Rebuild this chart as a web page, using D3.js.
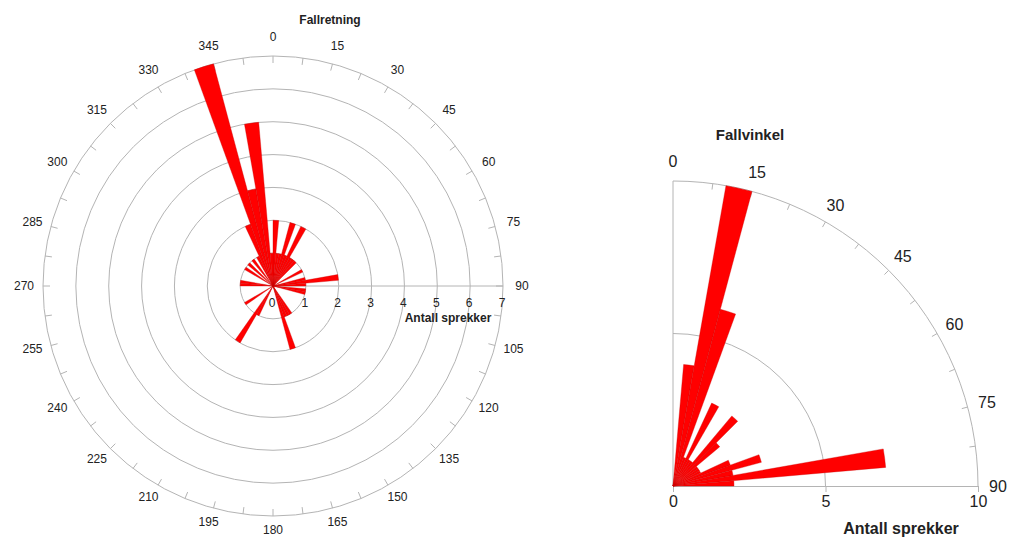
<!DOCTYPE html>
<html>
<head>
<meta charset="utf-8">
<script src="https://cdn.jsdelivr.net/npm/d3@7"></script>
<style>
  body { margin: 0; background: #fff; }
  text { font-family: "Liberation Sans", Arial, sans-serif; fill: #222; }
</style>
</head>
<body>
<div id="chart"></div>
<script>
// Fallretning (dip direction), 5 degree bins, start angle -> count
const dirAngles = [0, 5, 10, 15, 20, 25, 30, 35, 40, 60, 75, 80, 85, 95, 100,
  145, 150, 155, 160, 205, 210, 235, 270, 275, 300, 310, 320, 330, 335, 340, 345, 350, 355]
const dirCounts = [2, 1, 1, 2, 1, 2, 1, 1, 1, 1, 1, 2, 1, 1, 1,
  1, 1, 1, 2, 1, 2, 1, 1, 1, 1, 1, 1, 1, 2, 7, 3, 5, 1]
const dirLabels = [0, 15, 30, 45, 60, 75, 90, 105, 120, 135, 150, 165, 180,
  195, 210, 225, 240, 255, 270, 285, 300, 315, 330, 345]
const dirRings = [1, 2, 3, 4, 5, 6, 7]

// Fallvinkel (dip angle), 5 degree bins
const dipAngles = [5, 10, 15, 20, 25, 30, 35, 40, 45, 50, 55, 60, 65, 70, 75, 80, 85]
const dipCounts = [4, 10, 6, 1, 3, 1, 1, 3, 2, 1, 1, 1, 2, 3, 2, 7, 2]
const dipLabels = [0, 15, 30, 45, 60, 75, 90]
const dipRings = [5, 10]
const binWidth = 5

const W = 1011, H = 538
const grey = "#b4b4b4"
const rad = d => d * Math.PI / 180

const svg = d3.select("#chart").append("svg")
  .attr("width", W).attr("height", H)

function drawBars(g, angles, counts, r) {
  const arc = d3.arc().innerRadius(0)
  g.selectAll("path.bar")
    .data(angles.map((a, i) => ({a: a, n: counts[i]})))
    .enter().append("path")
    .attr("class", "bar")
    .attr("d", d => arc({startAngle: rad(d.a), endAngle: rad(d.a + binWidth), outerRadius: r(d.n)}))
    .attr("fill", "#ff0000")
    .attr("stroke", "#c80000")
    .attr("stroke-width", 0.35)
}

function outerTicks(g, R, from, to, len) {
  const t = d3.range(from, to + 0.01, 7.5)
  g.selectAll("line.otick").data(t).enter().append("line")
    .attr("class", "otick")
    .attr("x1", d => R * Math.sin(rad(d))).attr("y1", d => -R * Math.cos(rad(d)))
    .attr("x2", d => (R - len) * Math.sin(rad(d))).attr("y2", d => -(R - len) * Math.cos(rad(d)))
    .attr("stroke", grey).attr("stroke-width", 1)
}

// ---- left: full rose ----
const cx = 273, cy = 286
const rL = d3.scaleLinear().domain([0, 7]).range([0, 230])
const gL = svg.append("g").attr("transform", `translate(${cx},${cy})`)

gL.selectAll("circle.ring").data(dirRings).enter().append("circle")
  .attr("class", "ring")
  .attr("r", d => rL(d))
  .attr("fill", "none").attr("stroke", grey).attr("stroke-width", 1)
outerTicks(gL, rL(7), 0, 352.5, 7)
gL.append("line")
  .attr("x1", 0).attr("y1", 0).attr("x2", rL(7)).attr("y2", 0)
  .attr("stroke", grey).attr("stroke-width", 1)

drawBars(gL, dirAngles, dirCounts, rL)

gL.selectAll("text.rtick").data([0].concat(dirRings)).enter().append("text")
  .attr("class", "rtick")
  .attr("x", d => rL(d) - 1).attr("y", 21)
  .attr("text-anchor", "middle").attr("font-size", 12)
  .text(d => d)
gL.selectAll("text.alab").data(dirLabels).enter().append("text")
  .attr("class", "alab")
  .attr("x", d => 249 * Math.sin(rad(d)))
  .attr("y", d => -(d > 90 && d < 270 ? 244 : 249) * Math.cos(rad(d)) + 4)
  .attr("text-anchor", "middle").attr("font-size", 12)
  .text(d => d)
gL.append("text")
  .attr("x", 175).attr("y", 36)
  .attr("text-anchor", "middle").attr("font-size", 12).attr("font-weight", "bold")
  .text("Antall sprekker")
svg.append("text")
  .attr("x", 330).attr("y", 24)
  .attr("text-anchor", "middle").attr("font-size", 12).attr("font-weight", "bold")
  .text("Fallretning")

// ---- right: quarter rose ----
const ox = 673, oy = 486
const rR = d3.scaleLinear().domain([0, 10]).range([0, 305])
const gR = svg.append("g").attr("transform", `translate(${ox},${oy})`)

gR.selectAll("path.ring").data(dipRings).enter().append("path")
  .attr("class", "ring")
  .attr("d", d => {
    const R = rR(d)
    return `M0,${-R}A${R},${R} 0 0 1 ${R},0`
  })
  .attr("fill", "none").attr("stroke", grey).attr("stroke-width", 1)
outerTicks(gR, rR(10), 7.5, 82.5, 6)
gR.append("line").attr("x1", 0).attr("y1", 0).attr("x2", 0).attr("y2", -rR(10))
  .attr("stroke", grey).attr("stroke-width", 1)

const xAxisR = d3.axisBottom(rR).tickValues([0, 5, 10]).tickSize(6).tickPadding(4)
const ax = gR.append("g").call(xAxisR)
ax.select(".domain").attr("stroke", grey)
ax.selectAll(".tick line").attr("stroke", grey)
ax.selectAll(".tick text").attr("font-size", 16).attr("fill", "#222")
  .attr("font-family", "Liberation Sans, Arial, sans-serif")

drawBars(gR, dipAngles, dipCounts, rR)

gR.selectAll("text.alab").data(dipLabels).enter().append("text")
  .attr("class", "alab")
  .attr("x", d => 325 * Math.sin(rad(d)))
  .attr("y", d => -325 * Math.cos(rad(d)) + 6)
  .attr("text-anchor", "middle").attr("font-size", 16)
  .text(d => d)
svg.append("text")
  .attr("x", 750).attr("y", 140)
  .attr("text-anchor", "middle").attr("font-size", 15).attr("font-weight", "bold")
  .text("Fallvinkel")
svg.append("text")
  .attr("x", 901).attr("y", 534)
  .attr("text-anchor", "middle").attr("font-size", 16).attr("font-weight", "bold")
  .text("Antall sprekker")
</script>
</body>
</html>
